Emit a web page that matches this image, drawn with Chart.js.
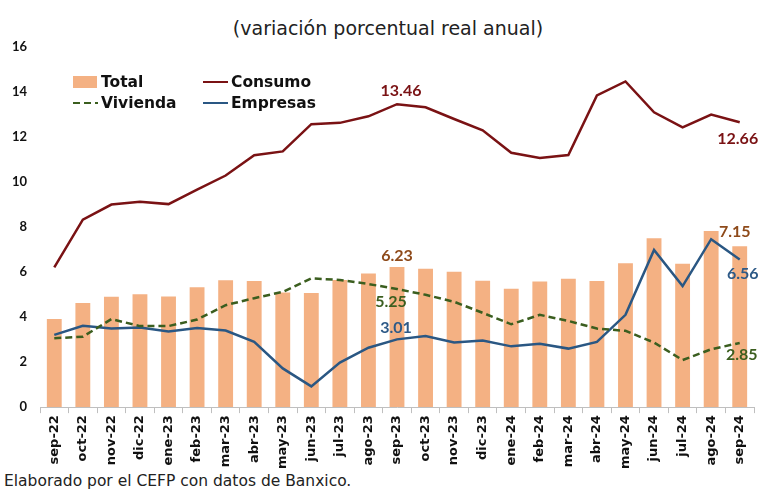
<!DOCTYPE html>
<html>
<head>
<meta charset="utf-8">
<script src="https://cdn.jsdelivr.net/npm/chart.js@4.4.1/dist/chart.umd.min.js"></script>
<style>
  body { margin: 0; background: #fff; width: 758px; height: 491px; position: relative; overflow: hidden; font-family: "DejaVu Sans", sans-serif; }
  #title { position: absolute; top: 17px; left: 9px; width: 758px; text-align: center; font-size: 19px; line-height: 22px; color: #222; }
  #note { position: absolute; left: 4px; top: 473px; font-size: 15.5px; line-height: 17px; color: #222; }
  #wrap { position: absolute; left: 0; top: 0; width: 758px; height: 471px; }
</style>
</head>
<body>
<div id="title">(variación porcentual real anual)</div>
<div id="wrap"><canvas id="myChart"></canvas></div>
<div id="note">Elaborado por el CEFP con datos de Banxico.</div>
<script>
var months = ["sep-22", "oct-22", "nov-22", "dic-22", "ene-23", "feb-23", "mar-23", "abr-23", "may-23",
  "jun-23", "jul-23", "ago-23", "sep-23", "oct-23", "nov-23", "dic-23", "ene-24", "feb-24", "mar-24",
  "abr-24", "may-24", "jun-24", "jul-24", "ago-24", "sep-24"];

var total = [3.91, 4.63, 4.90, 5.02, 4.92, 5.33, 5.64, 5.60, 5.09, 5.07, 5.65, 5.94, 6.23, 6.15, 6.02,
  5.61, 5.26, 5.58, 5.70, 5.60, 6.39, 7.50, 6.37, 7.83, 7.15];
var consumo = [6.21, 8.33, 9.00, 9.12, 9.02, 9.66, 10.29, 11.19, 11.36, 12.57, 12.63, 12.92, 13.46, 13.32,
  12.80, 12.30, 11.30, 11.07, 11.20, 13.85, 14.47, 13.10, 12.43, 13.00, 12.66];
var vivienda = [3.06, 3.13, 3.91, 3.60, 3.60, 3.89, 4.53, 4.84, 5.12, 5.72, 5.65, 5.47, 5.25, 4.99, 4.68,
  4.19, 3.68, 4.10, 3.83, 3.49, 3.39, 2.87, 2.09, 2.57, 2.85];
var empresas = [3.21, 3.61, 3.49, 3.54, 3.36, 3.51, 3.40, 2.90, 1.72, 0.92, 1.98, 2.64, 3.01, 3.16, 2.87,
  2.96, 2.70, 2.82, 2.60, 2.90, 4.10, 6.98, 5.38, 7.46, 6.56];

var yTicks = [0, 2, 4, 6, 8, 10, 12, 14, 16];

var font = "DejaVu Sans";
var numFont = "Lato";

// which points get a value written next to them
var valueLabels = [
  { ds: 1, i: 12, color: "#7a1214", dx: 4, dy: -13 },
  { ds: 1, i: 24, color: "#7a1214", dx: -2, dy: 17 },
  { ds: 0, i: 12, color: "#8e4a1a", dx: 0, dy: -11 },
  { ds: 0, i: 24, color: "#8e4a1a", dx: -5, dy: -14 },
  { ds: 2, i: 12, color: "#3b5e1f", dx: -6, dy: 13 },
  { ds: 2, i: 24, color: "#3b5e1f", dx: 2, dy: 12 },
  { ds: 3, i: 12, color: "#2e5a87", dx: -1, dy: -12 },
  { ds: 3, i: 24, color: "#2e5a87", dx: 3, dy: 14 }
];

var labelPlugin = {
  id: "valueLabels",
  afterDatasetsDraw: function(chart) {
    var ctx = chart.ctx;
    ctx.save();
    ctx.font = "bold 16px " + numFont;
    ctx.textAlign = "center";
    ctx.textBaseline = "middle";
    valueLabels.forEach(function(l) {
      var el = chart.getDatasetMeta(l.ds).data[l.i];
      var v = chart.data.datasets[l.ds].data[l.i];
      ctx.fillStyle = l.color;
      ctx.fillText(v.toFixed(2), el.x + l.dx, el.y + l.dy);
    });
    ctx.restore();
  }
};

// legend drawn inside the plot, two rows by two columns
var legendPlugin = {
  id: "insideLegend",
  afterDraw: function(chart) {
    var ctx = chart.ctx;
    var a = chart.chartArea;
    var ds = chart.data.datasets;
    var items = [
      { d: ds[0], x: a.left + 33, y: a.top + 35 },
      { d: ds[1], x: a.left + 163, y: a.top + 35 },
      { d: ds[2], x: a.left + 33, y: a.top + 56 },
      { d: ds[3], x: a.left + 163, y: a.top + 56 }
    ];
    ctx.save();
    ctx.font = "bold 15.5px " + font;
    ctx.textBaseline = "middle";
    items.forEach(function(it) {
      if (it.d.type === "bar") {
        ctx.fillStyle = it.d.backgroundColor;
        ctx.fillRect(it.x, it.y - 6, 24, 12);
      } else {
        ctx.strokeStyle = it.d.borderColor;
        ctx.lineWidth = 2;
        ctx.setLineDash(it.d.borderDash || []);
        ctx.beginPath();
        ctx.moveTo(it.x, it.y);
        ctx.lineTo(it.x + 25, it.y);
        ctx.stroke();
        ctx.setLineDash([]);
      }
      ctx.fillStyle = "#111";
      ctx.fillText(it.d.label, it.x + 28, it.y + 1);
    });
    ctx.restore();
  }
};

var ctx = document.getElementById("myChart").getContext("2d");
var chart = new Chart(ctx, {
  data: {
    labels: months,
    datasets: [
      {
        type: "bar",
        label: "Total",
        data: total,
        backgroundColor: "#f4b183",
        categoryPercentage: 1,
        barPercentage: 0.52,
        order: 1
      },
      {
        type: "line",
        label: "Consumo",
        data: consumo,
        borderColor: "#7a1214",
        borderWidth: 2.5,
        pointRadius: 0,
        tension: 0,
        order: 0
      },
      {
        type: "line",
        label: "Vivienda",
        data: vivienda,
        borderColor: "#3b5e1f",
        borderWidth: 2.5,
        borderDash: [7, 4],
        pointRadius: 0,
        tension: 0,
        order: 0
      },
      {
        type: "line",
        label: "Empresas",
        data: empresas,
        borderColor: "#2a5783",
        borderWidth: 2.5,
        pointRadius: 0,
        tension: 0,
        order: 0
      }
    ]
  },
  options: {
    responsive: true,
    maintainAspectRatio: false,
    animation: false,
    layout: { padding: { left: 12, right: 4, top: 47, bottom: 0 } },
    plugins: {
      legend: { display: false },
      tooltip: { enabled: false }
    },
    scales: {
      x: {
        offset: true,
        // rotated labels hang straight down, no side room needed
        afterFit: function(scale) {
          scale.paddingLeft = 0;
          scale.paddingRight = 0;
        },
        grid: { display: true, drawOnChartArea: false, offset: true, tickLength: 6, color: "#bfbfbf" },
        border: { color: "#bfbfbf" },
        ticks: {
          minRotation: 90,
          maxRotation: 90,
          autoSkip: false,
          padding: 2,
          color: "#111",
          font: { family: font, size: 13, weight: "bold" }
        }
      },
      y: {
        min: 0,
        max: 16,
        afterBuildTicks: function(axis) {
          axis.ticks = yTicks.map(function(v) { return { value: v }; });
        },
        afterFit: function(scale) {
          scale.width = 28;
        },
        grid: { display: false, drawTicks: false },
        border: { display: false },
        ticks: {
          color: "#111",
          padding: 13,
          font: { family: numFont, size: 13, weight: "bold" }
        }
      }
    }
  },
  plugins: [labelPlugin, legendPlugin]
});
</script>
</body>
</html>
